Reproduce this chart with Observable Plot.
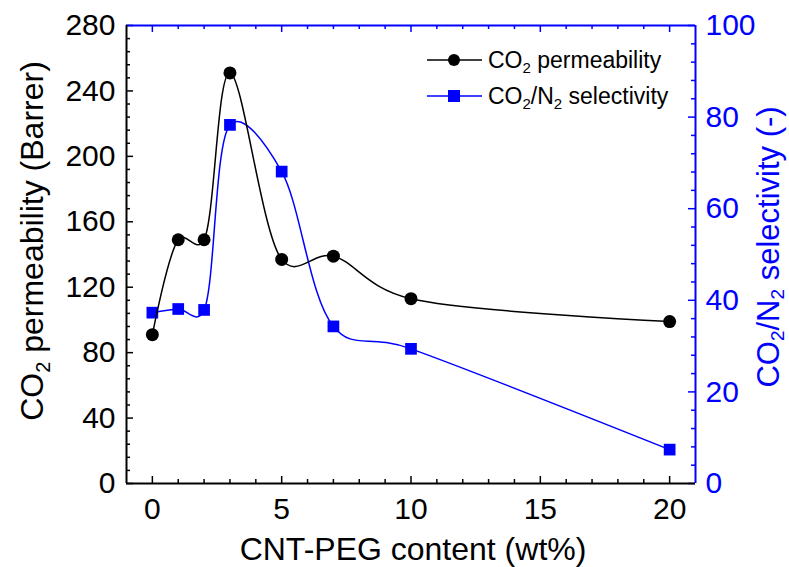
<!DOCTYPE html>
<html><head><meta charset="utf-8">
<script src="https://cdn.jsdelivr.net/npm/d3@7"></script>
<script src="https://cdn.jsdelivr.net/npm/@observablehq/plot@0.6"></script>
<style>body{margin:0;background:#fff;}</style>
</head><body><div id="chart"></div>
<script>
// Data
const content = [0, 1, 2, 3, 5, 7, 10, 20];
const permeability = [91, 149, 149, 251, 137, 139, 113, 99];
const selectivity = [37.3, 38.1, 37.9, 78.3, 68.1, 34.3, 29.4, 7.4];
// Tick labels
const xTickLabels = [0, 5, 10, 15, 20];
const leftTickLabels = [0, 40, 80, 120, 160, 200, 240, 280];
const rightTickLabels = [0, 20, 40, 60, 80, 100];

const K = 280 / 100; // right axis (0-100) mapped onto left axis (0-280)
const BLUE = "#0000ff";
const F = "'Liberation Sans', Arial, sans-serif";

const W = 789, H = 567, ML = 126, MR = 94, MT = 25, MB = 84;
const FW = W - ML - MR, FH = H - MT - MB;

const perm = content.map((x, i) => ({x, y: permeability[i]}));
const sel = content.map((x, i) => ({x, y: selectivity[i]}));

const xMinor = d3.range(0, 21, 1).filter(v => v % 5);
const leftMinor = d3.range(0, 281, 8).filter(v => v % 40);
const rightMajor = rightTickLabels.map(v => v * K);
const rightMinor = d3.range(0, 101, 4).filter(v => v % 20).map(v => v * K);

const MAJ = 7, MIN = 4;
const CURVE = d3.curveCatmullRom.alpha(0.2);

const plot = Plot.plot({
  width: W, height: H,
  marginLeft: ML, marginRight: MR, marginTop: MT, marginBottom: MB,
  style: {fontFamily: F, fontSize: "30px", background: "#fff", color: "#000", overflow: "visible"},
  x: {domain: [-1, 21]},
  y: {domain: [0, 280]},
  marks: [
    // tick labels
    Plot.axisX(xTickLabels, {anchor: "bottom", tickSize: 0, tickPadding: 14, label: null, fontSize: 30}),
    Plot.axisY(leftTickLabels, {anchor: "left", tickSize: 0, tickPadding: 11, label: null, fontSize: 30}),
    Plot.axisY(rightMajor, {anchor: "right", tickSize: 0, tickPadding: 10, label: null, fill: BLUE, fontSize: 30,
      tickFormat: d => String(Math.round(d / K))}),
    // inward ticks
    Plot.tickX(xTickLabels, {x: d => d, insetTop: FH - MAJ, stroke: "#000", strokeWidth: 1.5}),
    Plot.tickX(xMinor, {x: d => d, insetTop: FH - MIN, stroke: "#000", strokeWidth: 1.5}),
    Plot.tickX(xTickLabels, {x: d => d, insetBottom: FH - MAJ, stroke: BLUE, strokeWidth: 1.5}),
    Plot.tickX(xMinor, {x: d => d, insetBottom: FH - MIN, stroke: BLUE, strokeWidth: 1.5}),
    Plot.tickY(leftTickLabels, {y: d => d, insetRight: FW - MAJ, stroke: "#000", strokeWidth: 1.5}),
    Plot.tickY(leftMinor, {y: d => d, insetRight: FW - MIN, stroke: "#000", strokeWidth: 1.5}),
    Plot.tickY(rightMajor, {y: d => d, insetLeft: FW - MAJ, stroke: BLUE, strokeWidth: 1.5}),
    Plot.tickY(rightMinor, {y: d => d, insetLeft: FW - MIN, stroke: BLUE, strokeWidth: 1.5}),
    // frame
    Plot.ruleY([280], {stroke: BLUE, strokeWidth: 2}),
    Plot.ruleX([21], {stroke: BLUE, strokeWidth: 2}),
    Plot.ruleY([0], {stroke: "#000", strokeWidth: 2}),
    Plot.ruleX([-1], {stroke: "#000", strokeWidth: 2}),
    // series
    Plot.line(sel, {x: "x", y: d => d.y * K, stroke: BLUE, strokeWidth: 1.5, curve: CURVE}),
    Plot.dot(sel, {x: "x", y: d => d.y * K, symbol: "square", r: 6.6, fill: BLUE, stroke: "none"}),
    Plot.line(perm, {x: "x", y: "y", stroke: "#000", strokeWidth: 1.5, curve: CURVE}),
    Plot.dot(perm, {x: "x", y: "y", r: 6.5, fill: "#000", stroke: "none"})
  ]
});

document.getElementById("chart").appendChild(plot);

const svg = d3.select(plot);

// Axis titles
const lt = svg.append("text").attr("transform", "translate(43,241) rotate(-90)")
  .attr("text-anchor", "middle").attr("font-size", 32).attr("font-family", F).attr("fill", "#000");
lt.append("tspan").text("CO");
lt.append("tspan").attr("font-size", 20).attr("dy", 7).text("2");
lt.append("tspan").attr("dy", -7).text(" permeability (Barrer)");

const rt = svg.append("text").attr("transform", "translate(779,247) rotate(-90)")
  .attr("text-anchor", "middle").attr("font-size", 31).attr("font-family", F).attr("fill", BLUE);
rt.append("tspan").text("CO");
rt.append("tspan").attr("font-size", 19).attr("dy", 5).text("2");
rt.append("tspan").attr("dy", -5).text("/N");
rt.append("tspan").attr("font-size", 19).attr("dy", 5).text("2");
rt.append("tspan").attr("dy", -5).text(" selectivity (-)");

svg.append("text").attr("x", 413).attr("y", 560).attr("text-anchor", "middle")
  .attr("font-size", 32).attr("font-family", F).attr("fill", "#000").text("CNT-PEG content (wt%)");

// Legend
const lg = svg.append("g").attr("font-family", F).attr("font-size", 23).attr("text-anchor", "start");
lg.append("line").attr("x1", 427).attr("x2", 482).attr("y1", 60).attr("y2", 60).attr("stroke", "#000").attr("stroke-width", 1.5);
lg.append("circle").attr("cx", 454).attr("cy", 60).attr("r", 6).attr("fill", "#000");
const l1 = lg.append("text").attr("x", 488).attr("y", 68).attr("fill", "#000");
l1.append("tspan").text("CO");
l1.append("tspan").attr("font-size", 15).attr("dy", 5).text("2");
l1.append("tspan").attr("dy", -5).text(" permeability");

lg.append("line").attr("x1", 427).attr("x2", 482).attr("y1", 96).attr("y2", 96).attr("stroke", BLUE).attr("stroke-width", 1.5);
lg.append("rect").attr("x", 448).attr("y", 90).attr("width", 12).attr("height", 12).attr("fill", BLUE);
const l2 = lg.append("text").attr("x", 488).attr("y", 104).attr("fill", "#000");
l2.append("tspan").text("CO");
l2.append("tspan").attr("font-size", 15).attr("dy", 5).text("2");
l2.append("tspan").attr("dy", -5).text("/N");
l2.append("tspan").attr("font-size", 15).attr("dy", 5).text("2");
l2.append("tspan").attr("dy", -5).text(" selectivity");
</script>
</body></html>
